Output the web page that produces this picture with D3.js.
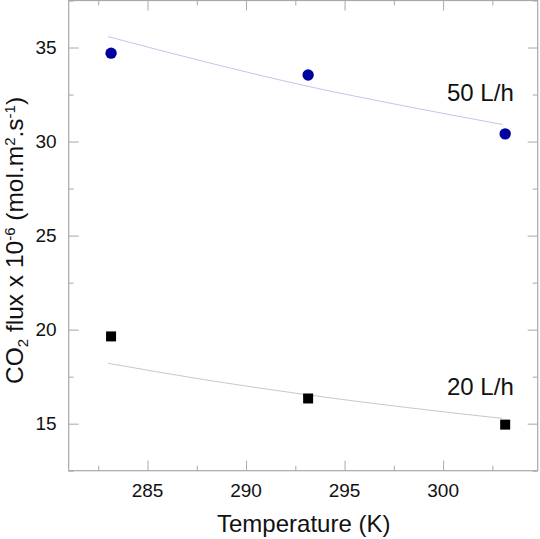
<!DOCTYPE html>
<html><head><meta charset="utf-8">
<script src="https://cdn.jsdelivr.net/npm/d3@7"></script>
<style>body{margin:0;background:#fff}svg{display:block}text{font-family:"Liberation Sans",Arial,sans-serif}</style>
</head><body>
<svg id="c" width="540" height="539"></svg>
<script>
const temps = [283.15, 293.15, 303.15];
const flux50 = [34.70, 33.54, 30.41];
const flux20 = [19.64, 16.34, 14.95];
const fitTemps = [283, 288, 293, 298, 303];
const fit50 = [35.58, 34.22, 32.97, 31.90, 30.91];
const fit20 = [18.21, 17.32, 16.55, 15.88, 15.28];
const xTicks = [285, 290, 295, 300];
const xMinor = [282.5, 287.5, 292.5, 297.5, 302.5];
const yTicks = [15, 20, 25, 30, 35];
const yMinor = [12.5, 17.5, 22.5, 27.5, 32.5, 37.5];
const seriesLabels = ["50 L/h", "20 L/h"];

const svg = d3.select("#c");
const L = 68.7, R = 537.7, T = 0.5, B = 470.7;
const x = d3.scaleLinear().domain([281, 304.8]).range([L, R]);
const y = d3.scaleLinear().domain([12.5, 37.5]).range([B, T]);
const axCol = "#a8a8a8";

// ticks inward on all sides
function addAxis(gen, tr, ticks, len) {
  const g = svg.append("g").attr("transform", tr)
    .call(gen.tickValues(ticks).tickSize(len).tickFormat(""));
  g.select(".domain").remove();
  g.selectAll("line").attr("stroke", axCol);
}
addAxis(d3.axisTop(x), `translate(0,${B})`, xTicks, 10);
addAxis(d3.axisTop(x), `translate(0,${B})`, xMinor, 5);
addAxis(d3.axisBottom(x), `translate(0,${T})`, xTicks, 10);
addAxis(d3.axisBottom(x), `translate(0,${T})`, xMinor, 5);
addAxis(d3.axisRight(y), `translate(${L},0)`, yTicks, 10);
addAxis(d3.axisRight(y), `translate(${L},0)`, yMinor, 5);
addAxis(d3.axisLeft(y), `translate(${R},0)`, yTicks, 10);
addAxis(d3.axisLeft(y), `translate(${R},0)`, yMinor, 5);

svg.append("rect").attr("x", L).attr("y", T).attr("width", R - L).attr("height", B - T)
  .attr("fill", "none").attr("stroke", axCol).attr("stroke-width", 1.2);

// tick labels
svg.append("g").selectAll("text").data(xTicks).join("text")
  .attr("x", d => x(d)).attr("y", B + 26.5).attr("text-anchor", "middle")
  .attr("font-size", 19).attr("fill", "#111").text(d => d);
svg.append("g").selectAll("text").data(yTicks).join("text")
  .attr("x", L - 12).attr("y", d => y(d) + 6.8).attr("text-anchor", "end")
  .attr("font-size", 19).attr("fill", "#111").text(d => d);

// axis titles
svg.append("text").attr("x", (L + R) / 2 + 0.5).attr("y", 532).attr("text-anchor", "middle")
  .attr("font-size", 24).attr("fill", "#111").text("Temperature (K)");

const yl = svg.append("text").attr("transform", "translate(23,384) rotate(-90)")
  .attr("font-size", 24.5).attr("fill", "#111");
yl.append("tspan").text("CO");
yl.append("tspan").attr("font-size", 15).attr("dy", 5).text("2");
yl.append("tspan").attr("dy", -5).text(" flux x 10");
yl.append("tspan").attr("font-size", 15).attr("dy", -8.5).text("-6");
yl.append("tspan").attr("dy", 8.5).text(" (mol.m");
yl.append("tspan").attr("font-size", 15).attr("dy", -8.5).text("2");
yl.append("tspan").attr("dy", 8.5).text(".s");
yl.append("tspan").attr("font-size", 15).attr("dy", -8.5).text("-1");
yl.append("tspan").attr("dy", 8.5).text(")");

// fit lines
const line = d3.line().x(d => x(d[0])).y(d => y(d[1])).curve(d3.curveMonotoneX);
svg.append("path").datum(d3.zip(fitTemps, fit50)).attr("d", line)
  .attr("fill", "none").attr("stroke", "#c4c4ee").attr("stroke-width", 1);
svg.append("path").datum(d3.zip(fitTemps, fit20)).attr("d", line)
  .attr("fill", "none").attr("stroke", "#c8c8c8").attr("stroke-width", 1);

// markers
svg.append("g").selectAll("circle").data(d3.zip(temps, flux50)).join("circle")
  .attr("cx", d => x(d[0])).attr("cy", d => y(d[1])).attr("r", 5.7).attr("fill", "#0000a0");
svg.append("g").selectAll("rect").data(d3.zip(temps, flux20)).join("rect")
  .attr("x", d => x(d[0]) - 5).attr("y", d => y(d[1]) - 5).attr("width", 10).attr("height", 10)
  .attr("fill", "#000");

// series labels
svg.append("text").attr("x", 447).attr("y", 101).attr("font-size", 24).attr("fill", "#111").text(seriesLabels[0]);
svg.append("text").attr("x", 447).attr("y", 395).attr("font-size", 24).attr("fill", "#111").text(seriesLabels[1]);
</script>
</body></html>
